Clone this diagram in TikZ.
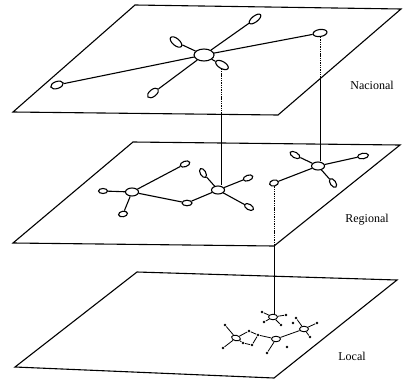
\documentclass[tikz,border=0pt]{standalone}
\usepackage{fontspec}
\setmainfont{Liberation Serif}
\usetikzlibrary{shapes.geometric}
\begin{document}
\begin{tikzpicture}[x=1pt,y=-1pt,line width=1.1pt,
  nd/.style={draw,ellipse,inner sep=0pt,minimum width=#1},
  sm/.style={nd=10pt,minimum height=5.5pt},
  hub/.style={nd=13pt,minimum height=8pt},
  dot/.style={circle,fill,inner sep=0pt,minimum size=2.8pt},
  lhub/.style={draw,ellipse,inner sep=0pt,minimum width=9pt,minimum height=5.5pt,line width=0.9pt},
  hid/.style={dash pattern=on 1.4pt off 0.9pt,line width=0.9pt},
  lbl/.style={font=\fontsize{12}{14}\selectfont,inner sep=0pt},
  plane/.style={line width=1.1pt,line join=miter}]
\useasboundingbox (0,0) rectangle (403,380);
% planes
\draw[plane] (135,5) -- (401,9) -- (278,115) -- (13,112) -- cycle;
\draw[plane] (133,142) -- (400,145) -- (274,246) -- (13,243) -- cycle;
\draw[plane] (137,272) -- (397,280) -- (274,378) -- (15,367) -- cycle;
% labels
\node[lbl] (tn) at (372,85) {Nacional};
\node[lbl] (tr) at (367,220) {Regional};
\node[lbl] (tl) at (352,356) {Local};
% national network
\node[nd=20pt,minimum height=12pt] (N0) at (204,55) {};
\node[sm,minimum width=14pt,minimum height=6pt,rotate=38] (N1) at (255,19) {};
\node[sm,minimum width=14pt,minimum height=7pt,rotate=8] (N2) at (320,33) {};
\node[sm,minimum width=14pt,minimum height=7pt,rotate=-40] (N3) at (176,42) {};
\node[sm,minimum width=14pt,minimum height=7pt,rotate=-30] (N4) at (222,65) {};
\node[sm,minimum width=13pt,minimum height=7pt,rotate=18] (N5) at (57,85) {};
\node[sm,minimum width=13pt,minimum height=7pt,rotate=38] (N6) at (153,93) {};
\foreach \n in {N1,N2,N3,N4,N5,N6} \draw (N0) -- (\n);
% regional network
\node[hub] (A) at (132,192) {};
\node[sm,minimum width=9pt,minimum height=5pt] (a1) at (103,191) {};
\node[sm,rotate=20] (a2) at (185,164) {};
\node[sm,minimum width=9pt,rotate=10] (a3) at (123,214) {};
\node[sm] (m) at (187,203) {};
\node[hub] (B) at (218,190) {};
\node[sm,rotate=-60] (b1) at (203,173) {};
\node[sm,rotate=20] (b2) at (248,178) {};
\node[sm,rotate=-30] (b3) at (249,207) {};
\node[hub] (C) at (318,166) {};
\node[sm,minimum width=11pt,rotate=-30] (c1) at (295,155) {};
\node[sm,minimum width=11pt,rotate=10] (c2) at (363,156) {};
\node[sm,rotate=-55] (c3) at (333,183) {};
\node[sm,minimum width=9pt,minimum height=6pt,rotate=15] (c4) at (274,183) {};
\foreach \n in {a1,a2,a3,m} \draw (A) -- (\n);
\foreach \n in {m,b1,b2,b3} \draw (B) -- (\n);
\foreach \n in {c1,c2,c3,c4} \draw (C) -- (\n);
% local network
\node[lhub] (L1) at (273,317) {};
\node[dot] (d11) at (262,312) {};
\node[dot] (d12) at (286,315) {};
\node[dot] (d13) at (264,322) {};
\node[dot] (d14) at (281,325) {};
\foreach \n in {d11,d12,d13,d14} \draw[line width=0.8pt] (L1) -- (\n);
\node[lhub] (L2) at (304,329) {};
\node[dot] (d21) at (296,318) {};
\node[dot] (d22) at (317,323) {};
\node[dot] (d23) at (310,337) {};
\node[dot] (d24) at (293,323) {};
\foreach \n in {d21,d22,d23} \draw[line width=0.8pt] (L2) -- (\n);
\node[lhub,rotate=-15] (L3) at (236,338) {};
\node[dot] (d31) at (225,325) {};
\node[dot] (d32) at (223,348) {};
\node[dot] (d33) at (249,331) {};
\node[dot] (d34) at (258,335) {};
\node[dot] (d35) at (252,345) {};
\node[dot] (d36) at (243,343) {};
\draw[line width=0.8pt] (L3) -- (d31);
\draw[line width=0.8pt] (L3) -- (d32);
\draw[line width=0.8pt] (L3) -- (d33) -- (d34) -- (d35) -- (d36) -- (L3);
\node[lhub] (L4) at (276,339) {};
\node[dot] (d41) at (267,353) {};
\node[dot] (d42) at (287,347) {};
\draw[line width=0.8pt] (d34) -- (L4) -- (d41);
\draw[line width=0.8pt] (L4) -- (L2);
% vertical links
\coordinate (e1) at (221,115);
\coordinate (e2) at (320,76);
\coordinate (e3) at (274,246);
\draw[hid] (N4.south -| e1) -- (e1);
\draw[line width=0.9pt] (e1) -- (e1 |- B.north);
\draw[hid] (N2.south -| e2) -- (e2);
\draw[line width=0.9pt] (e2) -- (e2 |- C.north);
\draw[hid] (c4.south -| e3) -- (e3);
\draw[line width=0.9pt] (e3) -- (e3 |- L1.north);
\end{tikzpicture}
\end{document}
